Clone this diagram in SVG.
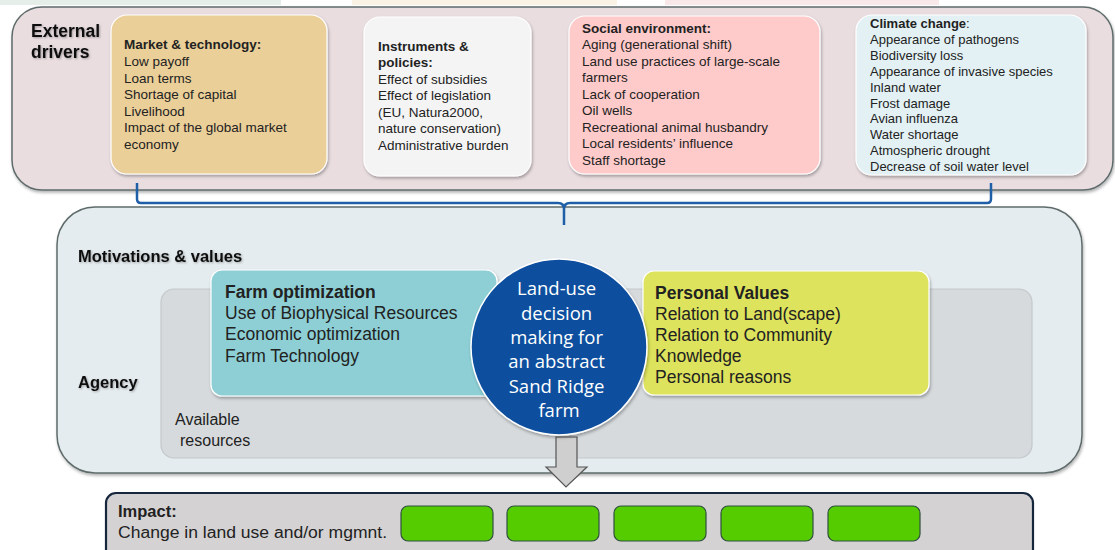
<svg xmlns="http://www.w3.org/2000/svg" width="1115" height="550" viewBox="0 0 1115 550">
  <defs>
    <filter id="shadow" x="-10%" y="-10%" width="125%" height="130%">
      <feDropShadow dx="1" dy="2" stdDeviation="1.8" flood-color="#000" flood-opacity="0.3"/>
    </filter>
    <filter id="textShadow" x="-5%" y="-20%" width="115%" height="150%">
      <feDropShadow dx="1" dy="1" stdDeviation="0.8" flood-color="#000" flood-opacity="0.3"/>
    </filter>
  </defs>
  <style>
    .frame { stroke: #5f6b6b; stroke-width: 1.5; }
    .card { stroke: #ffffff; stroke-width: 1.2; filter: url(#shadow); }
    .t { font-family: "Liberation Sans", Arial, sans-serif; fill: #222; }
    .s13 { font-size: 13.5px; }
    .s12 { font-size: 13px; }
    .b { font-weight: bold; }
    .lbl { font-family: "Liberation Sans", Arial, sans-serif; font-weight: bold; fill: #111; filter: url(#textShadow); }
    .big { font-size: 17.5px; }
    .circ { font-family: "Open Sans", "Noto Sans", sans-serif; font-size: 18.5px; fill: #ffffff; text-anchor: middle; }
    .green { fill: #55cc00; stroke: #2f4f3f; stroke-width: 1.2; }
    .brace { fill: none; stroke: #1f5fa8; stroke-width: 2.5; stroke-linejoin: round; }
  </style>

  <!-- faint bands along the top edge -->
  <rect x="0" y="0" width="281" height="5" fill="#e6eeea"/>
  <rect x="352" y="0" width="265" height="5" fill="#fbf2e6"/>
  <rect x="665" y="0" width="274" height="5" fill="#f9e8ea"/>

  <!-- External drivers -->
  <g id="external-drivers">
    <rect class="frame" x="12" y="7" width="1101" height="183" rx="30" fill="#e9dde0" filter="url(#shadow)"/>
    <text class="lbl big" x="31" y="37">External</text>
    <text class="lbl big" x="31" y="58">drivers</text>
  </g>

  <g id="market-technology">
    <rect class="card" x="111" y="15" width="216" height="159" rx="16" fill="#ebcf98"/>
    <text class="t s13" x="124">
      <tspan class="b" x="124" y="49">Market &amp; technology:</tspan>
      <tspan x="124" y="66">Low payoff</tspan>
      <tspan x="124" y="83">Loan terms</tspan>
      <tspan x="124" y="99">Shortage of capital</tspan>
      <tspan x="124" y="116">Livelihood</tspan>
      <tspan x="124" y="132">Impact of the global market</tspan>
      <tspan x="124" y="149">economy</tspan>
    </text>
  </g>

  <g id="instruments-policies">
    <rect class="card" x="364" y="17" width="167" height="159" rx="16" fill="#f4f4f4"/>
    <text class="t s13" x="378">
      <tspan class="b" x="378" y="51">Instruments &amp;</tspan>
      <tspan class="b" x="378" y="67">policies:</tspan>
      <tspan x="378" y="84">Effect of subsidies</tspan>
      <tspan x="378" y="100">Effect of legislation</tspan>
      <tspan x="378" y="117">(EU, Natura2000,</tspan>
      <tspan x="378" y="133">nature conservation)</tspan>
      <tspan x="378" y="150">Administrative burden</tspan>
    </text>
  </g>

  <g id="social-environment">
    <rect class="card" x="569" y="16" width="251" height="158" rx="16" fill="#ffcaca"/>
    <text class="t s13" x="582">
      <tspan class="b" x="582" y="33">Social environment:</tspan>
      <tspan x="582" y="49">Aging (generational shift)</tspan>
      <tspan x="582" y="66">Land use practices of large-scale</tspan>
      <tspan x="582" y="82">farmers</tspan>
      <tspan x="582" y="99">Lack of cooperation</tspan>
      <tspan x="582" y="115">Oil wells</tspan>
      <tspan x="582" y="132">Recreational animal husbandry</tspan>
      <tspan x="582" y="148">Local residents’ influence</tspan>
      <tspan x="582" y="165">Staff shortage</tspan>
    </text>
  </g>

  <g id="climate-change">
    <rect class="card" x="856" y="15" width="230" height="160" rx="16" fill="#e3f1f4"/>
    <text class="t s12" x="870">
      <tspan x="870" y="28"><tspan class="b">Climate change</tspan>:</tspan>
      <tspan x="870" y="44">Appearance of pathogens</tspan>
      <tspan x="870" y="60">Biodiversity loss</tspan>
      <tspan x="870" y="76">Appearance of invasive species</tspan>
      <tspan x="870" y="92">Inland water</tspan>
      <tspan x="870" y="108">Frost damage</tspan>
      <tspan x="870" y="123">Avian influenza</tspan>
      <tspan x="870" y="139">Water shortage</tspan>
      <tspan x="870" y="155">Atmospheric drought</tspan>
      <tspan x="870" y="171">Decrease of soil water level</tspan>
    </text>
  </g>

  <!-- Motivations & values / Agency -->
  <g id="motivations-agency">
    <rect class="frame" x="57" y="207" width="1025" height="266" rx="38" fill="#e5ecef" filter="url(#shadow)"/>
    <text class="lbl" x="78" y="262" font-size="16.5">Motivations &amp; values</text>
    <text class="lbl" x="78" y="388" font-size="16.5">Agency</text>
  </g>

  <g id="available-resources">
    <rect x="161" y="289" width="871" height="169" rx="13" fill="#d6dadd" stroke="#c3c8cb" stroke-width="1.2"/>
    <text class="t" x="175" y="425" font-size="16" fill="#333">Available</text>
    <text class="t" x="180" y="446" font-size="16" fill="#333">resources</text>
  </g>

  <g id="farm-optimization">
    <rect class="card" x="211" y="270" width="286" height="126" rx="11" fill="#8dcfd5"/>
    <text class="t" x="225" font-size="17.5">
      <tspan class="b" x="225" y="298">Farm optimization</tspan>
      <tspan x="225" y="319">Use of Biophysical Resources</tspan>
      <tspan x="225" y="340">Economic optimization</tspan>
      <tspan x="225" y="362">Farm Technology</tspan>
    </text>
  </g>

  <g id="personal-values">
    <rect class="card" x="643" y="271" width="286" height="124" rx="11" fill="#dde35b"/>
    <text class="t" x="655" font-size="17.5">
      <tspan class="b" x="655" y="299">Personal Values</tspan>
      <tspan x="655" y="320">Relation to Land(scape)</tspan>
      <tspan x="655" y="341">Relation to Community</tspan>
      <tspan x="655" y="362">Knowledge</tspan>
      <tspan x="655" y="383">Personal reasons</tspan>
    </text>
  </g>

  <!-- connectors: brace gathering the drivers, arrow down to impact -->
  <g id="connectors">
    <path class="brace" d="M137,183 V199 Q137,203 141,203 H558 Q564,203 564,209 V225 M564,209 Q564,203 570,203 H987 Q991,203 991,199 V183"/>
    <path d="M556,437 H577 V467 H587 L566,487 L546,467 H556 Z" fill="#cfcfcf" stroke="#555" stroke-width="1.2"/>
  </g>

  <g id="decision-core">
    <circle cx="559" cy="347" r="88" fill="#0d4f9e" stroke="#ffffff" stroke-width="1.5" filter="url(#shadow)"/>
    <text class="circ" x="559">
      <tspan x="559" y="295">Land-use</tspan>
      <tspan x="559" y="320">decision</tspan>
      <tspan x="559" y="344">making for</tspan>
      <tspan x="559" y="368">an abstract</tspan>
      <tspan x="559" y="393">Sand Ridge</tspan>
      <tspan x="559" y="417">farm</tspan>
    </text>
  </g>

  <!-- Impact -->
  <g id="impact">
    <rect x="106" y="493" width="927" height="70" rx="10" fill="#d4d2d3" stroke="#15263d" stroke-width="2.2"/>
    <text class="t b" x="118" y="517" font-size="16.5" fill="#333">Impact:</text>
    <text class="t" x="118" y="538" font-size="16" fill="#333" textLength="269" lengthAdjust="spacingAndGlyphs">Change in land use and/or mgmnt.</text>
    <rect class="green" x="401" y="506" width="92" height="35" rx="7"/>
    <rect class="green" x="507" y="506" width="92" height="35" rx="7"/>
    <rect class="green" x="614" y="506" width="92" height="35" rx="7"/>
    <rect class="green" x="721" y="506" width="92" height="35" rx="7"/>
    <rect class="green" x="828" y="506" width="92" height="35" rx="7"/>
  </g>
</svg>
